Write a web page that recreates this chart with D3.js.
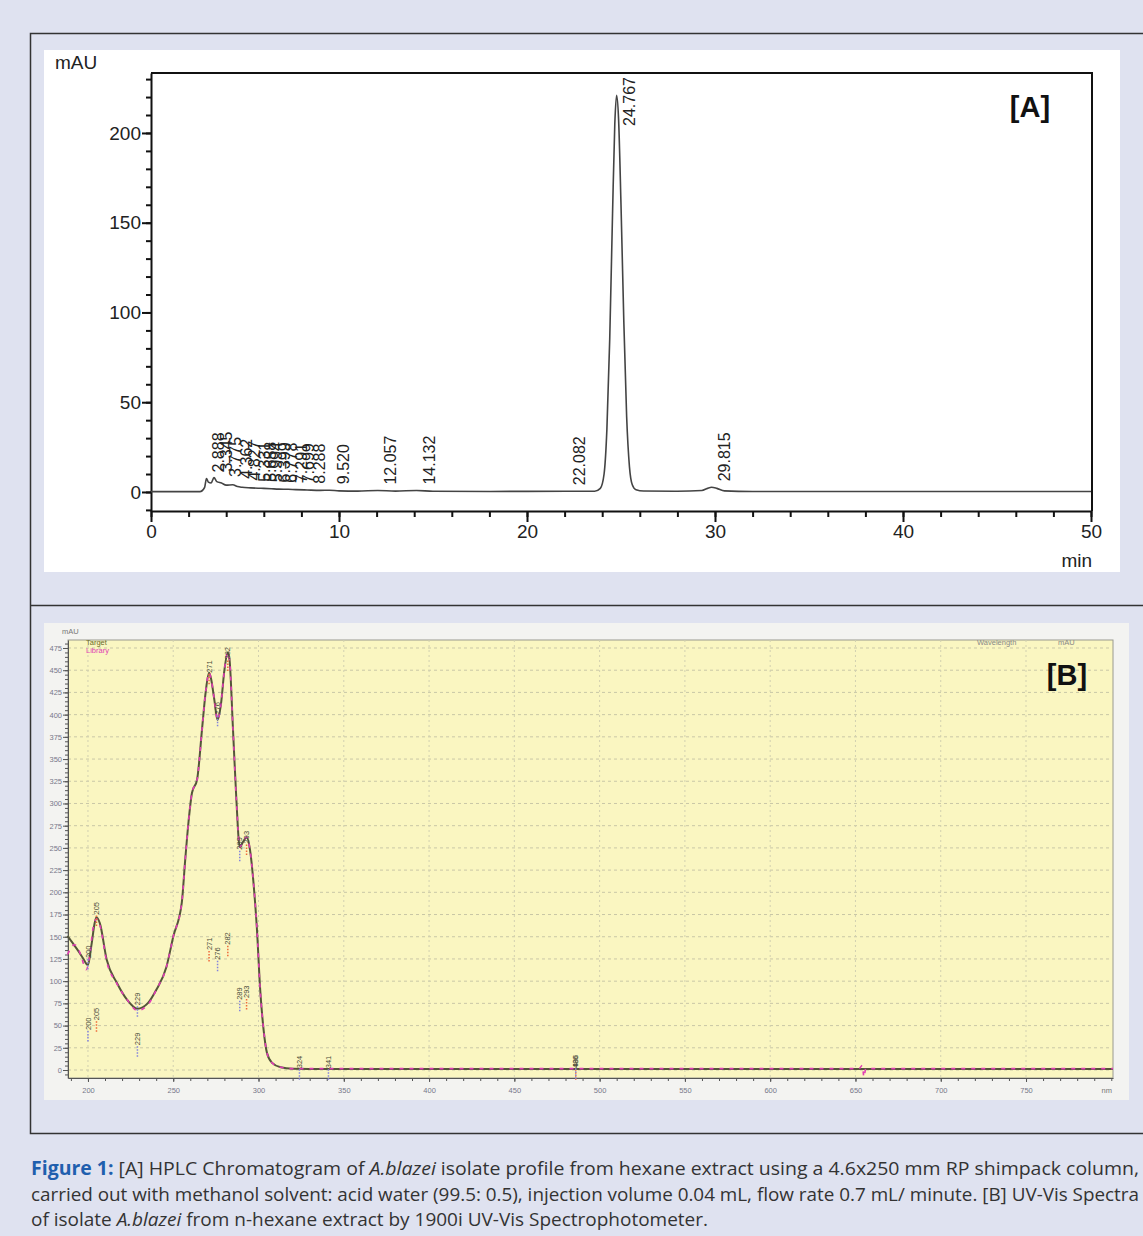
<!DOCTYPE html>
<html>
<head>
<meta charset="utf-8">
<script src="https://cdn.jsdelivr.net/npm/d3@7/dist/d3.min.js"></script>
<style>
  body { margin: 0; background: #dfe2f0; }
  svg { display: block; }
  .axA text { font-family: "Liberation Sans", Arial, sans-serif; font-size: 19px; fill: #222; }
  .axA path, .axA line { stroke: #111; stroke-width: 2; }
  .axB text { font-family: "Liberation Sans", Arial, sans-serif; font-size: 7.5px; fill: #77788a; }
  .axB path, .axB line { stroke: #555; stroke-width: 1; }
</style>
</head>
<body>
<svg id="fig" width="1143" height="1236"></svg>
<script>
// ---- [A] HPLC chromatogram: trace (min, mAU)
const timeA = [0, 2.6, 2.85, 2.95, 3.05, 3.2, 3.35, 3.5, 3.75, 4.0, 4.35, 4.6, 4.85, 5.3, 5.7, 6.0,
  6.4, 6.8, 7.3, 7.7, 8.3, 9.0, 9.5, 10.0, 11.0, 12.06, 13.0, 14.13, 15.0, 18.0, 22.08, 23.6,
  23.9, 24.1, 24.25, 24.4, 24.55, 24.67, 24.767, 24.87, 25.0, 25.15, 25.3, 25.45, 25.6, 25.8,
  26.2, 28.0, 29.3, 29.6, 29.815, 30.1, 30.5, 32.0, 40.0, 50.0];
const mauA = [0.2, 0.2, 2.5, 7.5, 5.5, 5.0, 8.0, 5.8, 5.0, 3.8, 4.0, 3.0, 2.6, 2.3, 2.1, 2.0,
  1.8, 1.6, 1.5, 1.3, 1.1, 0.9, 1.0, 0.6, 0.5, 0.8, 0.5, 0.8, 0.4, 0.3, 0.4, 0.4,
  2.0, 10, 35, 85, 155, 205, 221, 208, 160, 95, 42, 14, 4, 1.2,
  0.5, 0.4, 0.8, 2.0, 2.6, 2.0, 0.6, 0.3, 0.3, 0.3];
const peakTimesA = [2.888, 3.345, 3.775, 4.362, 4.827, 5.331, 5.658, 5.994, 6.399, 6.778,
  7.291, 7.699, 8.288, 9.520, 12.057, 14.132, 22.082, 24.767, 29.815];
const yTicksA = [0, 50, 100, 150, 200];
const xTicksA = [0, 10, 20, 30, 40, 50];

// ---- [B] UV-Vis spectrum (nm, mAU)
const nmTarget = [188, 191, 194, 197, 200, 202, 204, 205, 207, 211, 217, 223, 229, 235, 240, 246,
  250, 255, 257, 259, 261, 264, 267, 269, 271, 272, 274, 276, 278, 280, 282, 283, 285, 287,
  289, 291, 293, 295, 297, 299, 301, 303, 305, 308, 313, 320, 340, 400, 500, 600, 700, 801];
const mauTarget = [151, 143, 135, 126, 118, 140, 166, 172, 165, 124, 98, 79, 69, 75, 90, 116,
  150, 188, 236, 280, 312, 327, 386, 425, 447, 442, 418, 394, 412, 450, 470, 462, 385, 305,
  251, 257, 262, 248, 212, 161, 90, 45, 19, 8, 3, 1.5, 1, 1, 1, 1, 1, 1];
const nmLibrary = [188, 190, 192, 194, 196, 199, 201, 203, 205, 207, 211, 217, 223, 229, 235, 240,
  246, 250, 255, 257, 259, 261, 264, 267, 269, 271, 272, 274, 276, 278, 280, 282, 283, 285,
  287, 289, 291, 293, 295, 297, 299, 301, 303, 305, 308, 313, 320, 400, 500, 600, 652, 654,
  655, 656, 700, 801];
const mauLibrary = [130, 137, 141, 138, 128, 113, 128, 160, 170, 163, 122, 97, 79, 67, 73, 90,
  116, 150, 188, 236, 280, 312, 327, 386, 425, 447, 442, 418, 394, 412, 450, 470, 462, 385,
  305, 251, 257, 262, 248, 212, 161, 90, 45, 19, 8, 3, 1.5, 1.5, 1.5, 1.5, 1.5, 5,
  -8, 1.5, 1.5, 1.5];
// labelled extrema: [nm, mAU where the label sits, kind]
const annotTarget = [[200, 126, 'min'], [205, 175, 'max'], [229, 73, 'min'], [271, 447, 'max'],
  [276, 400, 'min'], [282, 462, 'max'], [289, 248, 'min'], [293, 255, 'max']];
const annotLibrary = [[200, 45, 'min'], [205, 56, 'max'], [229, 28, 'min'], [271, 135, 'max'],
  [276, 124, 'min'], [282, 141, 'max'], [289, 79, 'min'], [293, 81, 'max'],
  [324, 2, 'min'], [341, 2, 'min'], [486, 2, 'max'], [486, 3, 'min']];
const yTicksB = d3.range(0, 476, 25);
const xTicksB = d3.range(200, 751, 50);

const svg = d3.select('#fig');

// panel frames
svg.append('rect').attr('x', 44).attr('y', 50).attr('width', 1076).attr('height', 522).attr('fill', '#fff');
svg.append('rect').attr('x', 44).attr('y', 623).attr('width', 1085).attr('height', 477).attr('fill', '#f3f3f1');
svg.append('path')
    .attr('d', 'M1143,33.5H30.5V1133.5H1143M30.5,605.5H1143')
    .attr('fill', 'none')
    .attr('stroke', '#333')
    .attr('stroke-width', 1.5);

// ===================== [A] =====================
const xA = d3.scaleLinear().domain([0, 50]).range([151, 1091]);
const yA = d3.scaleLinear().domain([-10.6, 233.4]).range([511, 73]);

// frame top + right
svg.append('path')
    .attr('d', `M${xA(0)},${yA.range()[1]}H${xA(50) + 1}V${yA.range()[0]}`)
    .attr('fill', 'none')
    .attr('stroke', '#111')
    .attr('stroke-width', 2);

svg.append('g')
    .attr('class', 'axA')
    .attr('transform', `translate(${xA(0)},0)`)
    .call(d3.axisLeft(yA).tickValues(d3.range(-10, 231, 10)).tickSize(5).tickFormat('').tickSizeOuter(0));
svg.append('g')
    .attr('class', 'axA')
    .attr('transform', `translate(${xA(0)},0)`)
    .call(d3.axisLeft(yA).tickValues(yTicksA).tickSize(9).tickPadding(1).tickSizeOuter(0))
    .call(g => g.select('.domain').remove());

svg.append('g')
    .attr('class', 'axA')
    .attr('transform', `translate(0,${yA.range()[0]})`)
    .call(d3.axisBottom(xA).tickValues(d3.range(0, 51, 2)).tickSize(6).tickFormat('').tickSizeOuter(0));
svg.append('g')
    .attr('class', 'axA')
    .attr('transform', `translate(0,${yA.range()[0]})`)
    .call(d3.axisBottom(xA).tickValues(xTicksA).tickSize(11).tickPadding(3).tickSizeOuter(0))
    .call(g => g.select('.domain').remove());

svg.append('text')
    .attr('x', 55).attr('y', 69)
    .attr('font-family', 'Liberation Sans, Arial, sans-serif')
    .attr('font-size', 19).attr('fill', '#222')
    .text('mAU');
svg.append('text')
    .attr('x', 1092).attr('y', 567)
    .attr('text-anchor', 'end')
    .attr('font-family', 'Liberation Sans, Arial, sans-serif')
    .attr('font-size', 19).attr('fill', '#222')
    .text('min');

const traceA = timeA.map((t, i) => [t, mauA[i]]);
svg.append('path')
    .datum(traceA)
    .attr('fill', 'none')
    .attr('stroke', '#444')
    .attr('stroke-width', 1.6)
    .attr('d', d3.line().x(d => xA(d[0])).y(d => yA(d[1])).curve(d3.curveMonotoneX));

const mauAt = t => {
  const i = d3.bisectLeft(timeA, t);
  return Math.max(mauA[Math.max(0, i - 1)], mauA[Math.min(i, mauA.length - 1)]);
};
svg.selectAll('.peakA')
  .data(peakTimesA)
  .join('text')
    .attr('class', 'peakA')
    .attr('font-family', 'Liberation Sans, Arial, sans-serif')
    .attr('font-size', 16)
    .attr('fill', '#222')
    .attr('dy', '0.35em')
    .text(d => d.toFixed(3))
    .attr('transform', function(d) {
      const len = this.getComputedTextLength();
      const y0 = Math.max(yA(mauAt(d)) - 6, yA.range()[1] + len + 4);
      return `translate(${xA(d) + 13},${y0}) rotate(-90)`;
    });

svg.append('text')
    .attr('x', 1030).attr('y', 117)
    .attr('text-anchor', 'middle')
    .attr('font-family', 'Liberation Sans, Arial, sans-serif')
    .attr('font-weight', 'bold')
    .attr('font-size', 29).attr('fill', '#111')
    .text('[A]');

// ===================== [B] =====================
const xB = d3.scaleLinear().domain([188.3, 801]).range([68, 1113]);
const yB = d3.scaleLinear().domain([-9, 484]).range([1078, 640]);

svg.append('rect')
    .attr('x', 68).attr('y', 640)
    .attr('width', 1113 - 68).attr('height', 1078 - 640)
    .attr('fill', '#faf6c1')
    .attr('stroke', '#9a9a90');

svg.append('g')
  .selectAll('line')
  .data(yTicksB)
  .join('line')
    .attr('x1', 68).attr('x2', 1113)
    .attr('y1', d => yB(d)).attr('y2', d => yB(d))
    .attr('stroke', '#c9c7a6')
    .attr('stroke-dasharray', '3,3');
svg.append('g')
  .selectAll('line')
  .data(xTicksB)
  .join('line')
    .attr('x1', d => xB(d)).attr('x2', d => xB(d))
    .attr('y1', 640).attr('y2', 1078)
    .attr('stroke', '#d2d0b0')
    .attr('stroke-dasharray', '2,3');

svg.append('g')
    .attr('class', 'axB')
    .attr('transform', 'translate(68,0)')
    .call(d3.axisLeft(yB).tickValues(d3.range(-5, 484, 5)).tickSize(3).tickFormat('').tickSizeOuter(0));
svg.append('g')
    .attr('class', 'axB')
    .attr('transform', 'translate(68,0)')
    .call(d3.axisLeft(yB).tickValues(yTicksB).tickSize(5).tickPadding(1).tickSizeOuter(0))
    .call(g => g.select('.domain').remove());
svg.append('g')
    .attr('class', 'axB')
    .attr('transform', 'translate(0,1078)')
    .call(d3.axisBottom(xB).tickValues(d3.range(190, 801, 10)).tickSize(3).tickFormat('').tickSizeOuter(0));
svg.append('g')
    .attr('class', 'axB')
    .attr('transform', 'translate(0,1078)')
    .call(d3.axisBottom(xB).tickValues(xTicksB).tickSize(4).tickPadding(6).tickSizeOuter(0))
    .call(g => g.select('.domain').remove());

const smallText = (x, y, txt, fill, anchor) => svg.append('text')
    .attr('x', x).attr('y', y)
    .attr('text-anchor', anchor || 'start')
    .attr('font-family', 'Liberation Sans, Arial, sans-serif')
    .attr('font-size', 7.5)
    .attr('fill', fill)
    .text(txt);
smallText(62, 634, 'mAU', '#777');
smallText(86, 645, 'Target', '#6b6b2a');
smallText(86, 653, 'Library', '#e03cb4');
smallText(977, 645, 'Wavelength', '#888');
smallText(1058, 645, 'mAU', '#888');
smallText(1112, 1093, 'nm', '#777', 'end');

const specLine = d3.line().x(d => xB(d[0])).y(d => yB(d[1])).curve(d3.curveMonotoneX);
svg.append('path')
    .datum(nmTarget.map((n, i) => [n, mauTarget[i]]))
    .attr('fill', 'none')
    .attr('stroke', '#55553a')
    .attr('stroke-width', 2)
    .attr('d', specLine);
svg.append('path')
    .datum(nmLibrary.map((n, i) => [n, mauLibrary[i]]))
    .attr('fill', 'none')
    .attr('stroke', '#e03cb4')
    .attr('stroke-width', 1.6)
    .attr('stroke-dasharray', '4,6')
    .attr('d', specLine);

const drawAnnot = (list, cls) => {
  const g = svg.append('g').attr('class', cls);
  g.selectAll('line')
    .data(list)
    .join('line')
      .attr('x1', d => xB(d[0])).attr('x2', d => xB(d[0]))
      .attr('y1', d => yB(d[1]) + 1).attr('y2', d => yB(d[1]) + 12)
      .attr('stroke', d => d[2] === 'max' ? '#ee6a3a' : '#8484dc')
      .attr('stroke-width', 1.5)
      .attr('stroke-dasharray', '1.5,1.5');
  g.selectAll('text')
    .data(list)
    .join('text')
      .attr('transform', d => `translate(${xB(d[0])},${yB(d[1])}) rotate(-90)`)
      .attr('dy', '0.35em')
      .attr('font-family', 'Liberation Sans, Arial, sans-serif')
      .attr('font-size', 7.5)
      .attr('fill', '#4a4a3a')
      .text(d => d[0]);
};
drawAnnot(annotTarget, 'annT');
drawAnnot(annotLibrary, 'annL');

svg.append('text')
    .attr('x', 1067).attr('y', 685)
    .attr('text-anchor', 'middle')
    .attr('font-family', 'Liberation Sans, Arial, sans-serif')
    .attr('font-weight', 'bold')
    .attr('font-size', 29).attr('fill', '#111')
    .text('[B]');

// ===================== caption =====================
// condensed look: font squeezed horizontally
const capFont = '"Open Sans", "Noto Sans", sans-serif';
const squeeze = 0.9;
const capLine = (y, width) => svg.append('text')
    .attr('transform', `translate(31,${y}) scale(${squeeze},1)`)
    .attr('font-family', capFont).attr('font-size', 19).attr('fill', '#333')
    .attr('textLength', width / squeeze).attr('lengthAdjust', 'spacingAndGlyphs');
const cap1 = capLine(1175, 1108);
cap1.append('tspan').attr('font-weight', 'bold').attr('fill', '#1f5fae').text('Figure 1:');
cap1.append('tspan').text(' [A] HPLC Chromatogram of ');
cap1.append('tspan').attr('font-style', 'italic').text('A.blazei');
cap1.append('tspan').text(' isolate profile from hexane extract using a 4.6x250 mm RP shimpack column,');
capLine(1201, 1108)
    .text('carried out with methanol solvent: acid water (99.5: 0.5), injection volume 0.04 mL, flow rate 0.7 mL/ minute. [B] UV-Vis Spectra');
const cap3 = capLine(1226, 677);
cap3.append('tspan').text('of isolate ');
cap3.append('tspan').attr('font-style', 'italic').text('A.blazei');
cap3.append('tspan').text(' from n-hexane extract by 1900i UV-Vis Spectrophotometer.');
</script>
</body>
</html>
